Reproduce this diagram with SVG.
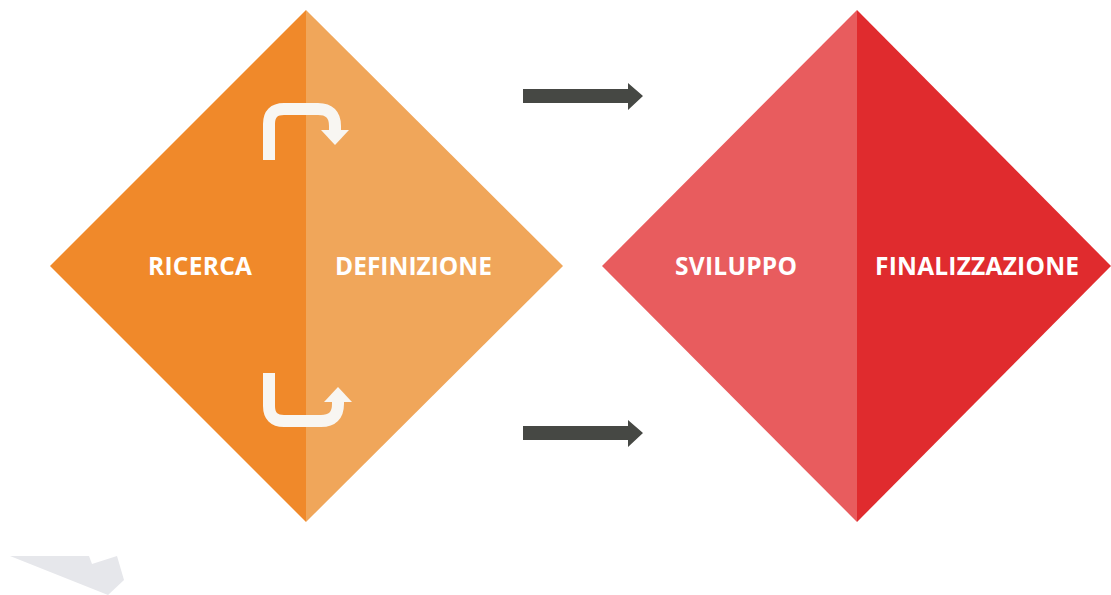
<svg xmlns="http://www.w3.org/2000/svg" width="1111" height="595" viewBox="0 0 1111 595">
<style>
.lbl{font-family:"Open Sans","Liberation Sans",sans-serif;font-weight:bold;font-size:24.5px;fill:#ffffff}
.loop{fill:none;stroke:#F8F6F2;stroke-width:12}
.head{fill:#F8F6F2}
.arr{fill:#464844}
</style>
<rect width="1111" height="595" fill="#ffffff"/>
<polygon points="10,556 89,556 92,564 117,556 124,580 108,595" fill="#E6E7EB"/>
<g id="node-left">
<polygon points="306,10 50,266 306,522" fill="#F0892A"/>
<polygon points="306,10 563,266 306,522" fill="#F0A65A"/>
<text class="lbl" x="148" y="275" textLength="104">RICERCA</text>
<text class="lbl" x="335" y="275" textLength="157">DEFINIZIONE</text>
<path class="loop" d="M269,160 V124 Q269,109 284,109 H318 Q335,109 335,126 V131"/>
<polygon class="head" points="321,130 349,130 335,145"/>
<path class="loop" d="M269,373 V406 Q269,421 284,421 H321 Q338,421 338,404 V400"/>
<polygon class="head" points="324,402 352,402 338,387"/>
</g>
<g id="node-right">
<polygon points="857,10 602,266 857,522" fill="#E85C5E"/>
<polygon points="857,10 1111,266 857,522" fill="#E02B2E"/>
<text class="lbl" x="675" y="275" textLength="122">SVILUPPO</text>
<text class="lbl" x="875" y="275" textLength="204">FINALIZZAZIONE</text>
</g>
<g id="connectors">
<polygon class="arr" points="523,89 628,89 628,83 643,96 628,110 628,103 523,103"/>
<polygon class="arr" points="523,426 628,426 628,420 643,433 628,447 628,440 523,440"/>
</g>
</svg>
